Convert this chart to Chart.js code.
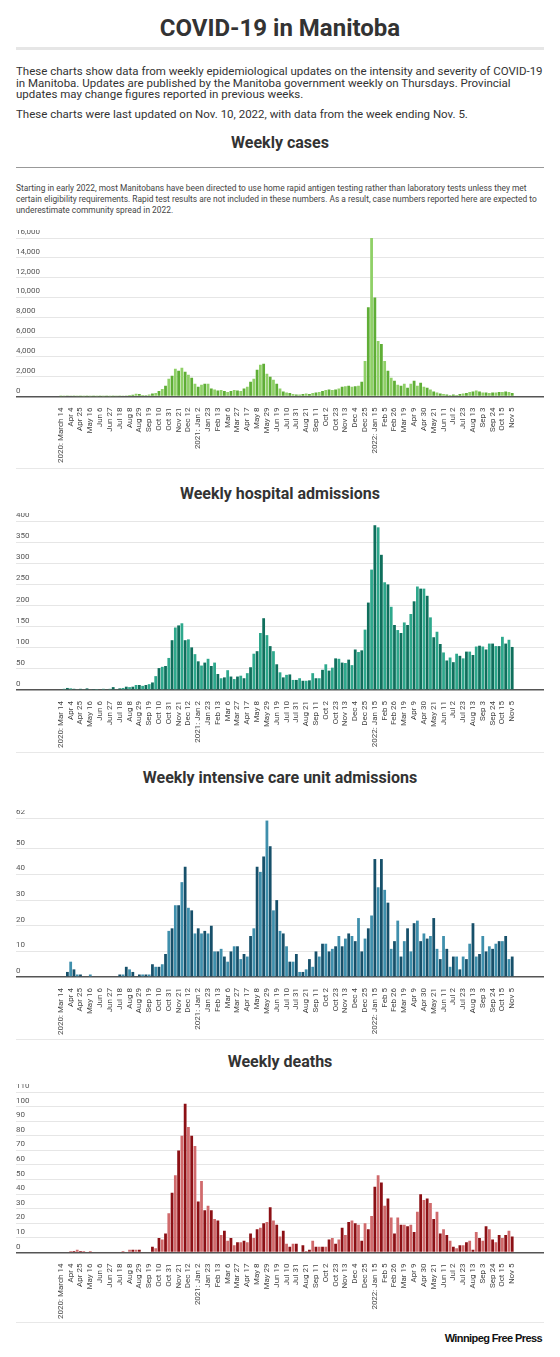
<!DOCTYPE html>
<html lang="en">
  <head>
    <meta charset="UTF-8" />
    <title>COVID-19 in Manitoba</title>
    <style>
      body { margin: 0; background: #fff; font-family: Roboto, sans-serif; color: #333; }
      #page { position: relative; width: 560px; height: 1357px; }
      .abs { position: absolute; left: 16px; width: 528px; }
      h1 { margin: 0; font-size: 24px; text-align: center; font-weight: 700; color: #333; }
      h2 { margin: 0; font-size: 16px; text-align: center; font-weight: 700; color: #333; }
      p { margin: 0; font-size: 11.5px; line-height: 11.5px; color: #333; }
      .note { font-size: 8.4px; line-height: 11px; color: #444; }
      .rule { height: 0; border-top: 1px solid #e8e8e8; }
      .box { height: 240px; }
      .logo { position: absolute; right: 18px; top: 1332px; font: 700 11px "Liberation Sans", sans-serif; letter-spacing: -0.6px; color: #111; }
    </style>
  </head>
  <body>
    <div id="page">
      <h1 class="abs" style="top:14px">COVID-19 in Manitoba</h1>
      <div class="abs rule" style="top:47px;border-top:3px solid #e6e6e6"></div>
      <p class="abs" style="top:66px">These charts show data from weekly epidemiological updates on the intensity and severity of COVID-19 in Manitoba. Updates are published by the Manitoba government weekly on Thursdays. Provincial updates may change figures reported in previous weeks.</p>
      <p class="abs" style="top:109px">These charts were last updated on Nov. 10, 2022, with data from the week ending Nov. 5.</p>
      <h2 class="abs" style="top:133px">Weekly cases</h2>
      <div class="abs rule" style="top:167px;border-top:1px solid #999"></div>
      <p class="abs note" style="top:199px;top:199px;top:199px;top:199px;top:199px;top:199px;top:199px;top:199px;top:199px;top:199px;top:199px;top:199px;top:199px;top:199px;top:199px;top:199px;top:199px;top:199px;top:199px;top:199px;top:199px;top:199px;top:199px;top:199px;top:199px;top:199px;top:199px;top:199px;top:199px;top:199px;top:199px;top:199px;top:199px;top:199px;top:199px;top:199px;top:199px;top:199px;top:199px;top:199px;top:199px;top:199px;top:199px;top:199px;top:199px;top:183px">Starting in early 2022, most Manitobans have been directed to use home rapid antigen testing rather than laboratory tests unless they met certain eligibility requirements. Rapid test results are not included in these numbers. As a result, case numbers reported here are expected to underestimate community spread in 2022.</p>
      <div class="abs box" style="top:230px;height:236px"><canvas id="c1"></canvas></div>
      <div class="abs rule" style="top:468px"></div>
      <h2 class="abs" style="top:484px">Weekly hospital admissions</h2>
      <div class="abs box" style="top:513px;height:238px"><canvas id="c2"></canvas></div>
      <div class="abs rule" style="top:752px"></div>
      <h2 class="abs" style="top:768px">Weekly intensive care unit admissions</h2>
      <div class="abs box" style="top:810px;height:228px"><canvas id="c3"></canvas></div>
      <div class="abs rule" style="top:1039px"></div>
      <h2 class="abs" style="top:1052px">Weekly deaths</h2>
      <div class="abs box" style="top:1084px;height:238px"><canvas id="c4"></canvas></div>
      <div class="abs rule" style="top:1322px"></div>
      <div class="logo">Winnipeg Free Press</div>
    </div>
    <script src="https://cdn.jsdelivr.net/npm/chart.js"></script>
    <script>
      // tick labels, one every 3 weeks starting week of 2020-03-14 (index 0)
      const tickLabels = [
        'Mar 14', 'Apr 4', 'Apr 25', 'May 16', 'Jun 6', 'Jun 27', 'Jul 18', 'Aug 8', 'Aug 29',
        'Sep 19', 'Oct 10', 'Oct 31', 'Nov 21', 'Dec 12', '2021: Jan 2', 'Jan 23', 'Feb 13',
        'Mar 6', 'Mar 27', 'Apr 17', 'May 8', 'May 29', 'Jun 19', 'Jul 10', 'Jul 31', 'Aug 21',
        'Sep 11', 'Oct 2', 'Oct 23', 'Nov 13', 'Dec 4', 'Dec 25', '2022: Jan 15', 'Feb 5',
        'Feb 26', 'Mar 19', 'Apr 9', 'Apr 30', 'May 21', 'Jun 11', 'Jul 2', 'Jul 23', 'Aug 13',
        'Sep 3', 'Sep 24', 'Oct 15', 'Nov 5'
      ]

      // weekly values, 139 weeks (2020-03-14 .. 2022-11-05)
      const cases = [
        10, 40, 60, 100, 40, 20, 10, 10, 10, 5, 5, 10, 5, 5, 5, 10, 10, 20, 30, 60,
        100, 150, 180, 280, 250, 150, 120, 200, 300, 350, 550, 750, 1100, 1800, 2100, 2800, 2600, 2900, 2500, 2200,
        1900, 1300, 1000, 1200, 1300, 1300, 800, 700, 600, 650, 550, 450, 550, 650, 600, 550, 800, 1000, 1500, 1800,
        2700, 3200, 3300, 2300, 2000, 1700, 1300, 800, 500, 400, 350, 250, 200, 200, 250, 300, 250, 350, 400, 450,
        550, 650, 700, 650, 700, 800, 1000, 1050, 1100, 1000, 1050, 1100, 1500, 3600, 9000, 16000, 10000, 5600, 5300, 3600,
        2600, 1900, 1600, 1200, 1100, 1300, 900, 1300, 1600, 1100, 1400, 1000, 900, 700, 500, 400, 300, 250, 200, 150,
        200, 150, 250, 300, 350, 450, 500, 600, 500, 400, 400, 350, 400, 400, 450, 450, 500, 450, 350
      ]
      const hospital = [
        2, 3, 5, 4, 3, 2, 3, 2, 4, 2, 1, 1, 2, 3, 2, 3, 7, 2, 4, 5,
        8, 7, 8, 12, 12, 10, 12, 14, 18, 33, 52, 55, 57, 76, 118, 148, 153, 158, 118, 120,
        101, 85, 68, 58, 65, 74, 57, 65, 38, 28, 30, 47, 32, 26, 32, 34, 28, 40, 54, 86,
        92, 135, 170, 130, 104, 92, 61, 42, 30, 36, 37, 24, 24, 28, 22, 22, 23, 40, 28, 28,
        48, 61, 46, 53, 75, 74, 65, 64, 72, 59, 96, 90, 94, 143, 207, 285, 390, 385, 320, 255,
        250, 197, 154, 142, 135, 160, 154, 180, 210, 245, 240, 240, 223, 172, 125, 138, 109, 89, 70, 77,
        66, 86, 81, 75, 91, 91, 83, 103, 105, 103, 96, 110, 110, 104, 104, 126, 110, 119, 102
      ]
      const icu = [
        0, 0, 2, 6, 3, 1, 1, 0, 0, 1, 0, 0, 0, 0, 0, 0, 0, 0, 1, 1,
        4, 3, 2, 0, 1, 1, 1, 1, 5, 4, 4, 5, 9, 18, 19, 28, 28, 37, 43, 27,
        26, 17, 19, 17, 18, 17, 20, 10, 10, 11, 8, 6, 10, 12, 12, 7, 9, 8, 16, 19,
        43, 41, 47, 61, 51, 26, 30, 18, 17, 12, 6, 6, 9, 2, 2, 3, 7, 4, 10, 8,
        13, 13, 10, 11, 12, 16, 12, 15, 17, 16, 14, 23, 10, 15, 19, 24, 46, 35, 46, 34,
        29, 11, 14, 22, 8, 14, 19, 10, 21, 22, 14, 17, 15, 16, 23, 11, 7, 16, 11, 4,
        8, 8, 3, 8, 7, 13, 21, 8, 9, 16, 10, 12, 11, 13, 14, 14, 16, 7, 8
      ]
      const deaths = [
        0, 0, 0, 1, 1, 2, 1, 1, 0, 1, 0, 0, 0, 0, 0, 0, 0, 0, 0, 1,
        0, 2, 2, 2, 2, 0, 0, 0, 4, 3, 10, 9, 13, 27, 41, 53, 70, 80, 102, 86,
        80, 73, 35, 49, 29, 32, 29, 23, 22, 12, 15, 8, 10, 5, 7, 7, 8, 7, 13, 10,
        16, 17, 20, 21, 31, 22, 19, 11, 15, 6, 4, 6, 6, 0, 5, 1, 2, 8, 4, 4,
        4, 4, 9, 10, 6, 9, 17, 12, 21, 22, 20, 19, 8, 20, 16, 25, 45, 53, 48, 32,
        37, 24, 13, 24, 19, 19, 18, 19, 14, 28, 40, 36, 37, 34, 23, 28, 13, 16, 12, 8,
        4, 3, 5, 5, 7, 8, 2, 14, 10, 8, 18, 16, 9, 7, 12, 10, 12, 15, 11
      ]

      const makeChart = (id, values, first, colors, yMax, yStep) => {
        const labels = tickLabels.slice()
        labels[0] = first
        return new Chart(document.getElementById(id), {
          type: 'bar',
          data: {
            datasets: [{
              data: values.map((v, i) => ({ x: i, y: v })),
              backgroundColor: values.map((v, i) => colors[i % 2]),
              barPercentage: 0.85,
              categoryPercentage: 1
            }]
          },
          options: {
            animation: false,
            responsive: true,
            maintainAspectRatio: false,
            layout: { padding: { top: 8 } },
            plugins: { legend: { display: false }, tooltip: { enabled: false } },
            scales: {
              x: {
                type: 'linear',
                min: -12,
                max: 146,
                grid: { display: false },
                border: { display: false },
                afterBuildTicks: (axis) => {
                  axis.ticks = labels.map((l, i) => ({ value: i * 3 }))
                },
                ticks: {
                  autoSkip: false,
                  maxRotation: 90,
                  minRotation: 90,
                  padding: 3,
                  color: '#444',
                  font: { family: 'Roboto', size: 8 },
                  callback: (v) => labels[v / 3]
                }
              },
              y: {
                min: 0,
                max: yMax,
                border: { display: false },
                grid: {
                  drawTicks: false,
                  color: (ctx) => (ctx.tick.value === 0 ? '#555' : '#e6e6e6'),
                  lineWidth: (ctx) => (ctx.tick.value === 0 ? 1.5 : 1)
                },
                ticks: {
                  stepSize: yStep,
                  mirror: true,
                  padding: 0,
                  labelOffset: -6,
                  color: '#555',
                  font: { family: 'Roboto', size: 8 }
                }
              }
            }
          }
        })
      }

      makeChart('c1', cases, '2020: March 14', ['#5fae36', '#8fd067'], 16000, 2000)
      makeChart('c2', hospital, '2020: Mar 14', ['#0f6f5c', '#2ea88c'], 400, 50)
      makeChart('c3', icu, '2020: Mar 14', ['#17506a', '#3f8fac'], 62, 10)
      makeChart('c4', deaths, '2020: March 14', ['#8c1015', '#d06a6c'], 110, 10)
    </script>
  </body>
</html>
